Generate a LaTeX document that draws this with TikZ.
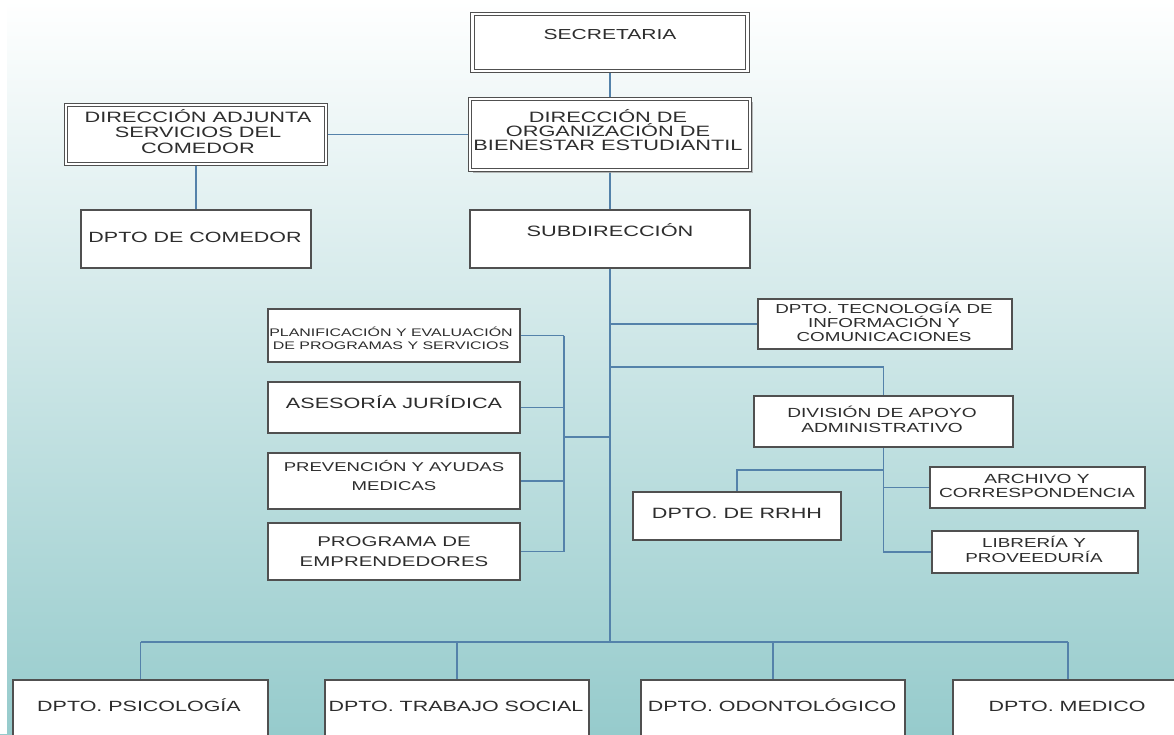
\documentclass[tikz,border=0pt]{standalone}
\usepackage{fontspec}
\newfontfamily\wf[FakeStretch=1.45]{Liberation Sans}
\usetikzlibrary{shadows}
\definecolor{lnc}{RGB}{84,130,170}
\definecolor{bdc}{RGB}{80,80,80}
\definecolor{txc}{RGB}{45,45,45}
\definecolor{bgm}{RGB}{205,229,230}
\definecolor{bgb}{RGB}{150,203,204}
\newcommand\fs[1]{\wf\fontsize{#1}{#1}\selectfont}
\newcommand\bx[6]{\node[#1, minimum width={(#5)-(#3)}, minimum height={(#6)-(#4)}] (#2) at ({((#3)+(#5))/2},{((#4)+(#6))/2}) {};}
\pgfdeclarelayer{bgl}
\pgfdeclarelayer{lnl}
\pgfsetlayers{bgl,lnl,main}
\begin{document}
\begin{tikzpicture}[x=1pt,y=-1pt,
  box/.style={draw=bdc, line width=1.4pt, fill=white, inner sep=0pt, outer sep=0pt},
  dbox/.style={draw=bdc, line width=1.1pt, double=white, double distance=2.4pt, fill=white, inner sep=0pt, outer sep=0pt},
  conn/.style={draw=lnc, line width=1.8pt},
  lbl/.style={anchor=base, inner sep=0pt, text=txc}]
\useasboundingbox (0,0) rectangle (1174,734);
\clip (0,0) rectangle (1174,734);
\begin{pgfonlayer}{bgl}
\shade[top color=white, middle color=bgm, bottom color=bgb] (0,0) rectangle (1174,734);
\fill[white] (0,0) rectangle (7,734);
\end{pgfonlayer}

% boxes
\bx{dbox}{secr}{472.5}{14}{747.5}{71}
\bx{dbox, drop shadow={shadow xshift=3pt, shadow yshift=-3pt, fill=gray!70, opacity=0.8}}{dir}{470}{99}{750}{170}
\bx{dbox}{adj}{66}{105}{326}{164}
\bx{box}{com}{81}{210}{311}{268}
\bx{box}{sub}{470}{210}{750}{268}
\bx{box}{tec}{758}{299}{1012}{349}
\bx{box}{plan}{268}{309}{520}{362}
\bx{box}{ases}{268}{382}{520}{433}
\bx{box}{prev}{268}{453}{520}{509}
\bx{box}{prog}{268}{523}{520}{580}
\bx{box}{div}{754}{396}{1013}{447}
\bx{box}{rrhh}{633}{492}{841}{540}
\bx{box}{arch}{930}{467}{1145}{508}
\bx{box}{lib}{932}{531}{1138}{573}
\bx{box}{psi}{13}{680}{268}{760}
\bx{box}{tra}{325}{680}{589}{760}
\bx{box}{odo}{641}{680}{905}{760}
\bx{box}{med}{953}{680}{1183}{760}

% connectors
\coordinate (busy) at (0,642);
\coordinate (brk) at (564,437);
\coordinate (rhy) at (0,470);
\coordinate (dvy) at (0,367);
\begin{pgfonlayer}{lnl}
\draw[conn] (secr.south) -- (dir.north);
\draw[conn] (dir.south) -- (sub.north);
\draw[conn] (sub.south) -- (sub.south |- busy);
\draw[conn] (adj.east) -- (dir.west);
\draw[conn] (adj.south) -- (com.north);
\draw[conn] (sub.south |- tec.west) -- (tec.west);
\draw[conn] (sub.south |- dvy) -| (div.north);
\draw[conn] (plan.east) -- (plan.east -| brk);
\draw[conn] (ases.east) -- (ases.east -| brk);
\draw[conn] (prev.east) -- (prev.east -| brk);
\draw[conn] (prog.east) -- (prog.east -| brk);
\draw[conn] (plan.east -| brk) -- (prog.east -| brk);
\draw[conn] (brk) -- (brk -| sub.south);
\draw[conn] (div.south) -- (div.south |- lib.west) -- (lib.west);
\draw[conn] (div.south |- arch.west) -- (arch.west);
\draw[conn] (div.south |- rhy) -| (rrhh.north);
\draw[conn] (psi.north |- busy) -- (med.north |- busy);
\draw[conn] (psi.north |- busy) -- (psi.north);
\draw[conn] (tra.north |- busy) -- (tra.north);
\draw[conn] (odo.north |- busy) -- (odo.north);
\draw[conn] (med.north |- busy) -- (med.north);
\end{pgfonlayer}

% texts
\node[lbl, font=\fs{14.5}] (tsecr) at (610,39) {SECRETARIA};
\node[lbl, font=\fs{15}] (tdir1) at (608,122) {DIRECCIÓN DE};
\node[lbl, font=\fs{15}] (tdir2) at (608,136) {ORGANIZACIÓN DE};
\node[lbl, font=\fs{15}] (tdir3) at (608,150) {BIENESTAR ESTUDIANTIL};
\node[lbl, font=\fs{15}] (tadj1) at (198,122) {DIRECCIÓN ADJUNTA};
\node[lbl, font=\fs{15}] (tadj2) at (198,137.5) {SERVICIOS DEL};
\node[lbl, font=\fs{15}] (tadj3) at (198,153) {COMEDOR};
\node[lbl, font=\fs{14.8}] (tcom) at (195,242) {DPTO DE COMEDOR};
\node[lbl, font=\fs{15}] (tsub) at (610,236) {SUBDIRECCIÓN};
\node[lbl, font=\fs{13}] (ttec1) at (884,313) {DPTO. TECNOLOGÍA DE};
\node[lbl, font=\fs{13}] (ttec2) at (884,327) {INFORMACIÓN Y};
\node[lbl, font=\fs{13}] (ttec3) at (884,341) {COMUNICACIONES};
\node[lbl, font=\fs{11}] (tplan1) at (391,336) {PLANIFICACIÓN Y EVALUACIÓN};
\node[lbl, font=\fs{11}] (tplan2) at (391,349) {DE PROGRAMAS Y SERVICIOS};
\node[lbl, font=\fs{14.9}] (tases) at (394,408) {ASESORÍA JURÍDICA};
\node[lbl, font=\fs{12.8}] (tprev1) at (394,471) {PREVENCIÓN Y AYUDAS};
\node[lbl, font=\fs{12.8}] (tprev2) at (394,490) {MEDICAS};
\node[lbl, font=\fs{14.1}] (tprog1) at (394,546) {PROGRAMA DE};
\node[lbl, font=\fs{14.1}] (tprog2) at (394,566) {EMPRENDEDORES};
\node[lbl, font=\fs{13.2}] (tdiv1) at (882,417) {DIVISIÓN DE APOYO};
\node[lbl, font=\fs{13.2}] (tdiv2) at (882,432) {ADMINISTRATIVO};
\node[lbl, font=\fs{14.9}] (trrhh) at (737,518) {DPTO. DE RRHH};
\node[lbl, font=\fs{13.2}] (tarch1) at (1037,483) {ARCHIVO Y};
\node[lbl, font=\fs{13.2}] (tarch2) at (1037,497) {CORRESPONDENCIA};
\node[lbl, font=\fs{13}] (tlib1) at (1034,547) {LIBRERÍA Y};
\node[lbl, font=\fs{13}] (tlib2) at (1034,562) {PROVEEDURÍA};
\node[lbl, font=\fs{14.8}] (tpsi) at (139,711) {DPTO. PSICOLOGÍA};
\node[lbl, font=\fs{14.8}] (ttra) at (456,711) {DPTO. TRABAJO SOCIAL};
\node[lbl, font=\fs{14.8}] (todo) at (772,711) {DPTO. ODONTOLÓGICO};
\node[lbl, font=\fs{14.8}] (tmed) at (1067,711) {DPTO. MEDICO};
\end{tikzpicture}
\end{document}
